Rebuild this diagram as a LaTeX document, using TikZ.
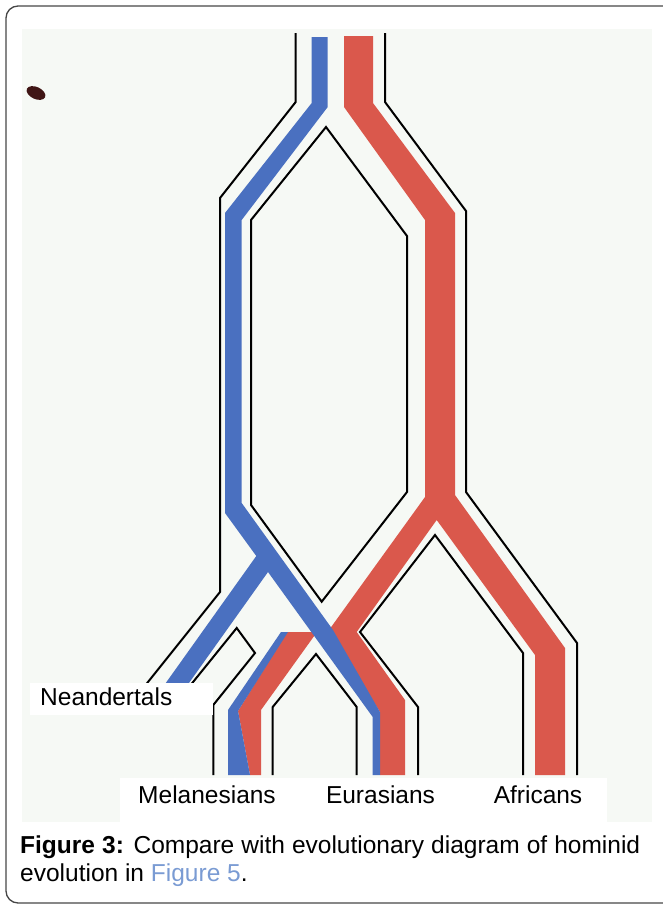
\documentclass[tikz,border=0pt]{standalone}
\usepackage{fontspec}
\setmainfont{Liberation Sans}
\usepackage{tikz}
\usetikzlibrary{positioning}
\definecolor{treeblue}{RGB}{74, 112, 192}
\definecolor{treered}{RGB}{218, 88, 76}
\definecolor{scanbg}{RGB}{246, 249, 245}
\definecolor{linkblue}{RGB}{122, 155, 211}
\definecolor{framegray}{RGB}{70, 70, 70}
\definecolor{inkmark}{RGB}{64, 21, 21}

\begin{document}
\begin{tikzpicture}[
    x=1pt, y=-1pt,
    outline/.style={draw=black, line width=2pt, line join=miter},
    band/.style={line width=0pt},
    tag/.style={font=\fontsize{24.5}{29}\selectfont, inner sep=0pt, anchor=base},
    capt/.style={font=\fontsize{24.5}{29}\selectfont, inner sep=0pt, anchor=base west},
]
\useasboundingbox (0,0) rectangle (662,905);

% Frame and scanned area
\draw[framegray, line width=1.3pt, rounded corners=12pt] (6,6) rectangle (675,903);
\fill[scanbg] (22,29) rectangle (652,822);
\fill[inkmark, rotate around={-25:(36,93)}] (36,93) ellipse (10 and 6);

% Red lineage
\fill[treered, band] (344,36) -- (373,36) -- (373,103) -- (455,213) -- (455,495) -- (565,648) -- (565,775) -- (535,775) -- (535,655) -- (436.7,520) -- (356.7,632) -- (405,700) -- (405,775) -- (380,775) -- (380,712) -- (329,630) -- (425,497) -- (425,220) -- (344,107) -- cycle;
\fill[treered, band] (287,632) -- (317,632) -- (261,710) -- (261,775) -- (250,775) -- (238,711) -- cycle;

% Blue lineage
\fill[treeblue, band] (311.7,37) -- (327.7,37) -- (327.7,107) -- (241.7,220) -- (241.7,503) -- (333,630) -- (380,712) -- (380,775) -- (372.7,775) -- (372.7,717) -- (268,572) -- (179,697) -- (155.8,697) -- (256.3,556) -- (225,513) -- (225,213) -- (311.7,103) -- cycle;
\fill[treeblue, band] (281,632) -- (288,632) -- (238,711) -- (250,775) -- (228,775) -- (228,710) -- cycle;

% Outlines
\draw[outline] (295.7,33) -- (295.7,102) -- (220,198) -- (220,592) -- (140,692);
\draw[outline] (385,33) -- (385,102) -- (466,211) -- (466,492) -- (577,643) -- (577,775);
\draw[outline] (326,127) -- (251,220) -- (251,505) -- (321.7,601.7) -- (407,492) -- (407,236) -- cycle;
\draw[outline] (418,775) -- (418,707) -- (360,632) -- (435,535) -- (523,653) -- (523,775);
\draw[outline] (272.7,775) -- (272.7,707) -- (316,654) -- (356.7,707) -- (356.7,775);
\draw[outline] (213.3,775) -- (213.3,705) -- (255,653) -- (236.7,628) -- (185,692);

% Labels
\fill[white] (30,683) rectangle (213,715);
\fill[white] (120,778) rectangle (607,822);
\node[tag, anchor=base west] (neander) at (40,705) {Neandertals};
\node[tag] (melan) at (207,803) {Melanesians};
\node[tag] (euras) at (380.5,803) {Eurasians};
\node[tag] (afric) at (538,803) {Africans};

% Caption
\node[capt] (caption) at (20,853) {\makebox[620pt][s]{\textbf{Figure 3:} Compare with evolutionary diagram of hominid}};
\node[capt] (captend) at (20,881) {evolution in \textcolor{linkblue}{Figure 5}.};

\end{tikzpicture}
\end{document}
